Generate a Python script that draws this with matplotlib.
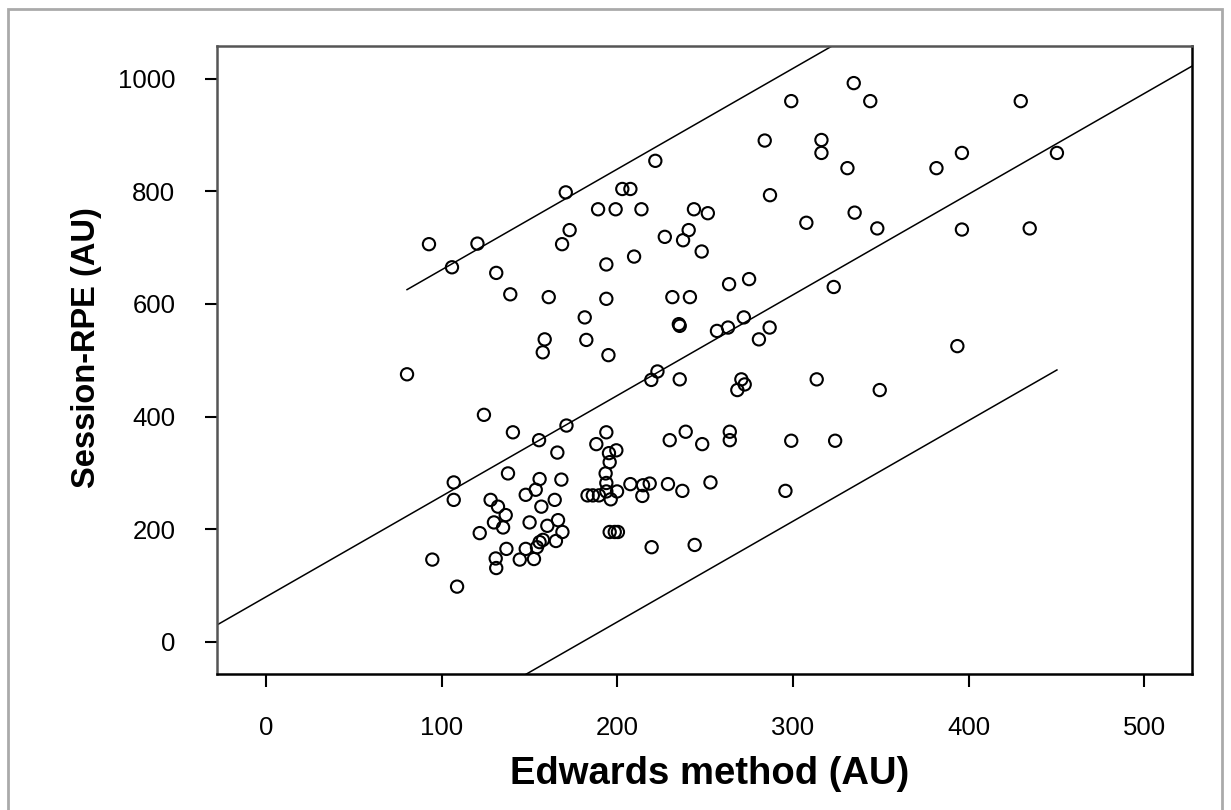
import matplotlib.pyplot as plt
from matplotlib.patches import Rectangle
import numpy as np

plt.rcParams['font.family'] = ['Liberation Sans', 'DejaVu Sans']

# Edwards method (AU) vs Session-RPE (AU)
edwards = [
    221.6, 170.6, 202.8, 207.4, 189.0, 199.0, 213.7, 243.6, 251.5, 172.8,
    240.6, 227.0, 237.4, 168.5, 248.0, 92.7, 120.3, 105.8, 209.5, 193.7,
    131.0, 139.0, 160.9, 193.7, 231.3, 241.3, 181.4, 235.0, 235.5, 158.6,
    182.3, 157.5, 194.9, 80.2, 222.8, 235.5,
    334.6, 299.0, 344.0, 429.7, 283.9, 316.2, 316.2, 331.0, 381.7, 396.2,
    450.3, 286.9, 335.1, 307.6, 348.0, 396.2, 434.8, 263.6, 275.0, 323.2,
    272.0, 256.7, 263.0, 286.7, 280.6, 393.6, 313.5,
    219.3, 270.6, 272.5, 268.3, 349.4, 124.0, 140.5, 171.0, 155.4, 165.8,
    193.7, 188.0, 199.4, 195.2, 195.6, 193.3, 229.8, 238.9, 248.3, 264.0,
    264.0, 299.0, 324.0, 106.8, 106.8, 137.7, 155.7, 168.1, 153.5, 147.8,
    164.3, 156.7, 127.8, 132.0, 136.4, 129.7, 134.9, 121.6, 150.0, 160.1,
    166.2, 168.7, 165.0, 157.6, 155.7, 154.2, 147.8, 136.8, 152.5, 144.4,
    130.7, 131.0, 94.6, 108.7, 183.0, 186.0, 189.5, 193.7, 193.7, 199.8,
    196.2, 207.4, 214.6, 218.4, 214.2, 228.8, 237.0, 253.0, 295.7, 195.6,
    198.5, 200.3, 219.5, 244.0,
]
session_rpe = [
    854, 798, 804, 804, 768, 768, 768, 768, 761, 731,
    731, 719, 713, 706, 693, 706, 707, 665, 684, 670,
    655, 617, 612, 609, 612, 612, 576, 564, 561, 537,
    536, 514, 509, 475, 480, 466,
    992, 960, 960, 960, 890, 891, 868, 841, 841, 868,
    868, 793, 762, 744, 734, 732, 734, 635, 644, 630,
    576, 552, 558, 558, 537, 525, 466,
    465, 466, 457, 447, 447, 403, 372, 384, 358, 336,
    372, 351, 340, 335, 319, 299, 358, 373, 351, 373,
    358, 357, 357, 283, 252, 299, 289, 288, 270, 261,
    252, 240, 252, 240, 225, 212, 203, 193, 212, 206,
    216, 195, 179, 181, 177, 168, 165, 165, 147, 146,
    148, 131, 146, 98, 260, 260, 260, 282, 267, 267,
    253, 280, 278, 281, 259, 280, 268, 283, 268, 195,
    195, 195, 168, 172,
]

# fitted line and prediction band
intercept = 80.0
slope = 1.787
band = 402.0
band_range = [80.2, 450.3]

x_ticks = [0, 100, 200, 300, 400, 500]
y_ticks = [0, 200, 400, 600, 800, 1000]

fig = plt.figure(figsize=(12.31, 8.10), dpi=100)
ax = fig.add_axes([0.1763, 0.168, 0.7917, 0.7746])

ax.scatter(edwards, session_rpe, s=78, facecolors='none', edgecolors='black',
           linewidths=1.5, zorder=3)

xlim = (-28, 527)
xl = np.array(xlim)
ax.plot(xl, intercept + slope * xl, color='black', lw=1.1)
xb = np.array(band_range)
ax.plot(xb, intercept + slope * xb + band, color='black', lw=1.1)
ax.plot(xb, intercept + slope * xb - band, color='black', lw=1.1)

ax.set_xlim(*xlim)
ax.set_ylim(-57, 1057)
ax.set_xticks(x_ticks)
ax.set_yticks(y_ticks)
ax.tick_params(axis='both', direction='out', length=9, width=1.5,
               labelsize=18.5, pad=21)
for lab in ax.get_xticklabels() + ax.get_yticklabels():
    lab.set_fontweight('medium')

for side in ['top', 'left']:
    ax.spines[side].set_color('#555555')
for side in ['bottom', 'right']:
    ax.spines[side].set_color('black')
for side in ax.spines:
    ax.spines[side].set_linewidth(1.8)

ax.set_xlabel('Edwards method (AU)', fontsize=27.5, fontweight='bold')
ax.set_ylabel('Session-RPE (AU)', fontsize=23.5, fontweight='bold')
ax.xaxis.set_label_coords(0.505, -0.159)
ax.yaxis.set_label_coords(-0.134, 0.52)
ax.xaxis.label.set_va('center')
ax.yaxis.label.set_va('center')

fig.patches.append(Rectangle((8 / 1231, -0.02), 1214 / 1231, 1.02 - 9 / 810,
                             transform=fig.transFigure, fill=False,
                             edgecolor='#aaaaaa', lw=2))

fig.savefig('out.png', dpi=100)
